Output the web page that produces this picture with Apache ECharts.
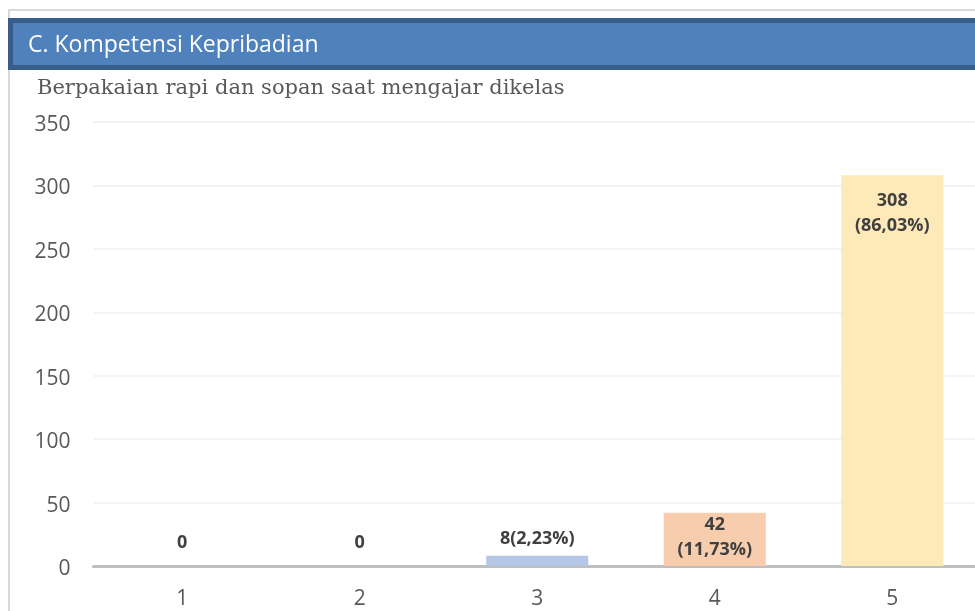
<!DOCTYPE html>
<html>
<head>
<meta charset="utf-8">
<script src="https://cdn.jsdelivr.net/npm/echarts@6/dist/echarts.min.js"></script>
<style>
  html, body { margin: 0; padding: 0; background: #fff; }
  #chart { width: 975px; height: 611px; }
</style>
</head>
<body>
<div id="chart"></div>
<script>
// Response counts per score (1-5)
const categories = ['1', '2', '3', '4', '5'];
const counts = [0, 0, 8, 42, 308];
const percentLabels = ['', '', '2,23%', '11,73%', '86,03%'];
const barColors = ['#B4C7E7', '#B4C7E7', '#B4C7E7', '#F8CDAE', '#FEE9B8'];
const yTicks = { min: 0, max: 350, interval: 50 };

const headerTitle = 'C. Kompetensi Kepribadian';
const chartTitle = 'Berpakaian rapi dan sopan saat mengajar dikelas';

// label placement per bar: zero/small bars above, tall bars inside the top
function labelFor(i) {
  const v = counts[i];
  const p = percentLabels[i];
  if (v === 0) return { position: 'top', distance: 11, formatter: String(v) };
  if (i === 2) return { position: 'top', distance: 4, formatter: v + '(' + p + ')' };
  if (i === 3) return { position: 'insideTop', distance: 0, formatter: v + '\n(' + p + ')' };
  return { position: 'insideTop', distance: 13, formatter: v + '\n(' + p + ')' };
}

const seriesData = counts.map((v, i) => ({
  value: v,
  itemStyle: { color: barColors[i] },
  label: labelFor(i)
}));

const chart = echarts.init(document.getElementById('chart'), null, { renderer: 'canvas' });
chart.setOption({
  animation: false,
  backgroundColor: '#ffffff',
  graphic: [
    // outer frame
    { type: 'line', shape: { x1: 8, y1: 10, x2: 975, y2: 10 }, style: { stroke: '#D9D9D9', lineWidth: 2 }, silent: true },
    { type: 'line', shape: { x1: 9, y1: 10, x2: 9, y2: 611 }, style: { stroke: '#D9D9D9', lineWidth: 2 }, silent: true },
    // header band
    { type: 'rect', shape: { x: 10.5, y: 20.5, width: 975, height: 47 }, style: { fill: '#4F81BD', stroke: '#385D8A', lineWidth: 5 }, silent: true },
    { type: 'text', left: 28, top: 34, style: { text: headerTitle, fill: '#ffffff', font: '23px "Open Sans", sans-serif' }, silent: true },
    { type: 'text', left: 37, top: 78, style: { text: chartTitle, fill: '#595959', font: '21px "DejaVu Serif", serif' }, silent: true }
  ],
  grid: { left: 93.5, width: 887.5, top: 122, bottom: 45, containLabel: false, outerBoundsMode: 'none' },
  xAxis: {
    type: 'category',
    data: categories,
    axisLine: { lineStyle: { color: '#BFBFBF', width: 3 } },
    axisTick: { show: false },
    axisLabel: { color: '#595959', fontSize: 21, fontFamily: 'Open Sans', margin: 23 },
    splitLine: { show: false }
  },
  yAxis: {
    type: 'value',
    min: yTicks.min,
    max: yTicks.max,
    interval: yTicks.interval,
    axisLine: { show: false },
    axisTick: { show: false },
    axisLabel: { color: '#595959', fontSize: 21, fontFamily: 'Open Sans', margin: 23, verticalAlign: 'top', lineHeight: 6 },
    splitLine: { lineStyle: { color: '#EFEFEF', width: 1.5 } }
  },
  series: [{
    type: 'bar',
    data: seriesData,
    barWidth: '57.5%',
    label: {
      show: true,
      color: '#404040',
      fontSize: 18,
      fontWeight: 'bold',
      fontFamily: 'Open Sans',
      lineHeight: 25
    }
  }]
});
</script>
</body>
</html>
